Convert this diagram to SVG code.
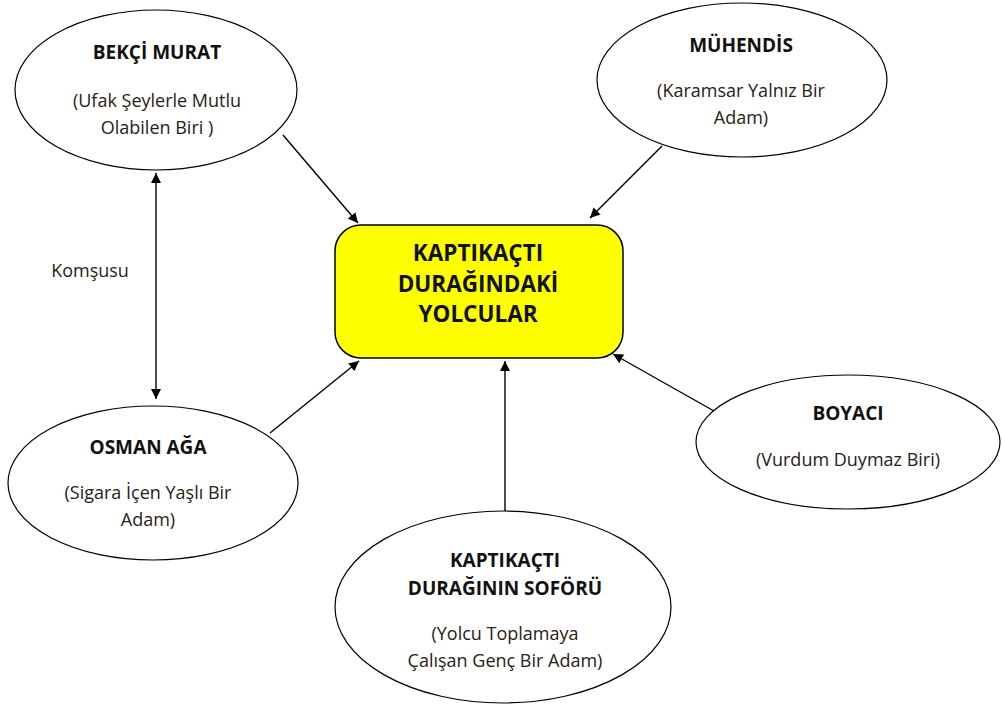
<svg xmlns="http://www.w3.org/2000/svg" width="1002" height="710" viewBox="0 0 1002 710">
<defs>
<marker id="ah" viewBox="0 0 10 10" refX="10" refY="5" markerWidth="10" markerHeight="10" markerUnits="userSpaceOnUse" orient="auto-start-reverse">
<path d="M0,0 L10,5 L0,10 Z" fill="#000"/>
</marker>
</defs>
<style>
.ell{fill:#fff;stroke:#000;stroke-width:1.2}
.box{fill:#ffff00;stroke:#000;stroke-width:1.5}
.t{font-family:"Open Sans","Noto Sans",sans-serif;text-anchor:middle;fill:#111}
.b{font-weight:bold;font-size:19px}
.s{font-size:18px;fill:#2a2015}
.c{font-weight:bold;font-size:22.5px}
.con{stroke:#000;stroke-width:1.4;fill:none;marker-end:url(#ah)}
</style>
<rect width="1002" height="710" fill="#fff"/>
<g id="connectors">
<line class="con" x1="283" y1="135" x2="358" y2="223"/>
<line class="con" x1="662" y1="146" x2="590" y2="218"/>
<line class="con" x1="156" y1="173" x2="156" y2="399" style="marker-start:url(#ah)"/>
<line class="con" x1="270" y1="433" x2="359" y2="361"/>
<line class="con" x1="505" y1="512" x2="505" y2="361"/>
<line class="con" x1="714" y1="411" x2="613" y2="354"/>
</g>
<g id="bekci">
<ellipse class="ell" cx="156" cy="90" rx="141" ry="80"/>
<text class="t b" x="157" y="59">BEKÇİ MURAT</text>
<text class="t s" x="157" y="107">(Ufak Şeylerle Mutlu</text>
<text class="t s" x="157" y="134">Olabilen Biri )</text>
</g>
<g id="muhendis">
<ellipse class="ell" cx="742" cy="80" rx="145" ry="77"/>
<text class="t b" x="741" y="52">MÜHENDİS</text>
<text class="t s" x="741" y="97">(Karamsar Yalnız Bir</text>
<text class="t s" x="741" y="124">Adam)</text>
</g>
<g id="center">
<rect class="box" x="335" y="225" width="288" height="133" rx="26" ry="26"/>
<text class="t c" x="478" y="261">KAPTIKAÇTI</text>
<text class="t c" x="478" y="292">DURAĞINDAKİ</text>
<text class="t c" x="478" y="322">YOLCULAR</text>
</g>
<g id="komsusu">
<text class="t s" x="90" y="277">Komşusu</text>
</g>
<g id="osman">
<ellipse class="ell" cx="153" cy="483" rx="145" ry="77"/>
<text class="t b" x="148" y="454">OSMAN AĞA</text>
<text class="t s" x="148" y="499">(Sigara İçen Yaşlı Bir</text>
<text class="t s" x="148" y="526">Adam)</text>
</g>
<g id="sofor">
<ellipse class="ell" cx="503" cy="607" rx="168" ry="96"/>
<text class="t b" x="505" y="567">KAPTIKAÇTI</text>
<text class="t b" x="505" y="595">DURAĞININ SOFÖRÜ</text>
<text class="t s" x="505" y="640">(Yolcu Toplamaya</text>
<text class="t s" x="505" y="667">Çalışan Genç Bir Adam)</text>
</g>
<g id="boyaci">
<ellipse class="ell" cx="848" cy="442" rx="152" ry="67"/>
<text class="t b" x="848" y="420">BOYACI</text>
<text class="t s" x="848" y="466">(Vurdum Duymaz Biri)</text>
</g>
</svg>
